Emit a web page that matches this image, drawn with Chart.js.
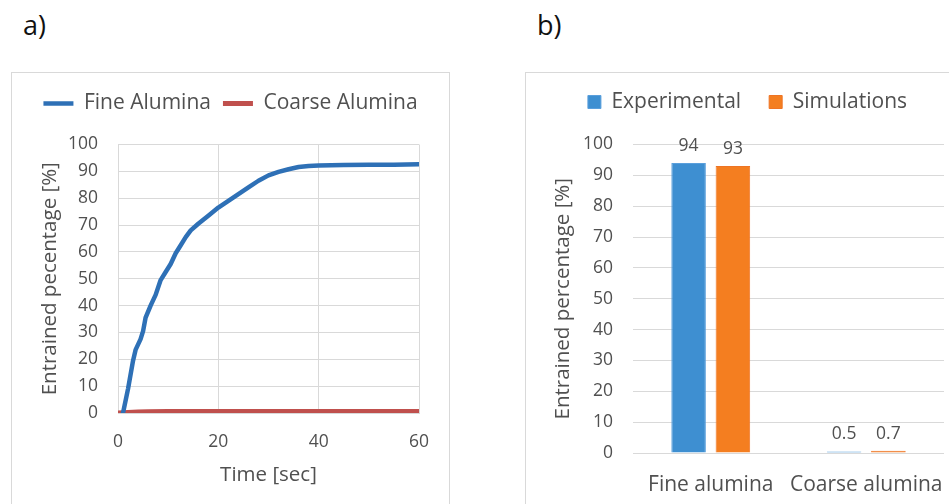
<!DOCTYPE html>
<html>
<head>
<meta charset="utf-8">
<script src="https://cdn.jsdelivr.net/npm/chart.js@4/dist/chart.umd.min.js"></script>
<style>
  html, body { margin: 0; padding: 0; background: #fff; width: 949px; height: 504px; overflow: hidden; font-family: 'Open Sans', sans-serif; }
  .panel { position: absolute; border: 1px solid #d9d9d9; box-sizing: border-box; }
  #boxA { left: 11px; top: 72px; width: 439px; height: 460px; }
  #boxB { left: 525px; top: 72px; width: 460px; height: 460px; }
  .tag { position: absolute; top: 6px; font-size: 27px; color: #111; }
  canvas { position: absolute; }
</style>
</head>
<body>
<div class="tag" style="left:23px">a)</div>
<div class="tag" style="left:537px">b)</div>
<div class="panel" id="boxA"></div>
<div class="panel" id="boxB"></div>
<canvas id="chartA" width="436" height="431" style="left:12px;top:73px"></canvas>
<canvas id="chartB" width="423" height="431" style="left:526px;top:73px"></canvas>
<script>
// Entrainment over time (panel a)
const fineTime   = [1, 2, 3, 3.5, 4.5, 5, 5.5, 6.5, 7.5, 8.5, 9.5, 10.5, 11.5, 12.5, 13.5, 14.5, 16, 18, 20, 22, 24, 26, 28, 30, 32, 34, 36, 38, 40, 45, 50, 55, 60];
const fineValues = [0, 9, 19.5, 23.5, 27.5, 30.5, 35.5, 40, 44, 49.5, 52.5, 55.5, 59.5, 62.5, 65.5, 68, 70.5, 73.5, 76.5, 79, 81.5, 84, 86.5, 88.5, 89.8, 90.8, 91.6, 92, 92.2, 92.4, 92.5, 92.5, 92.6];
const coarseTime   = [0, 2, 4, 6, 10, 20, 30, 40, 50, 60];
const coarseValues = [0, 0.2, 0.4, 0.5, 0.55, 0.6, 0.6, 0.6, 0.6, 0.6];
const timeTicks = [0, 20, 40, 60];
const pctTicks  = [0, 10, 20, 30, 40, 50, 60, 70, 80, 90, 100];

// Final entrained percentage (panel b)
const barCategories = ['Fine alumina', 'Coarse alumina'];
const experimental  = [94, 0.5];
const simulations   = [93, 0.7];

const FONT = "'Open Sans', sans-serif";
const INK = '#505050';
const GRID = '#d9d9d9';
const NONE = 'rgba(0,0,0,0)';

// Extra room under the legend, and a horizontal nudge of the legend row
const legendPlacement = {
  id: 'legendPlacement',
  afterInit(chart, args, opts) {
    const legend = chart.legend;
    if (!legend) return;
    const fit = legend.fit;
    legend.fit = function () { fit.call(this); this.height += opts.extra || 0; };
  },
  afterLayout(chart, args, opts) {
    const legend = chart.legend;
    if (!legend || !opts.shift) return;
    legend.left += opts.shift;
    legend.right += opts.shift;
  }
};

// Writes each bar's value above it
const valueLabels = {
  id: 'valueLabels',
  afterDatasetsDraw(chart, args, opts) {
    const ctx = chart.ctx;
    ctx.save();
    ctx.font = opts.size + 'px ' + FONT;
    ctx.fillStyle = opts.color;
    ctx.textAlign = 'center';
    ctx.textBaseline = 'middle';
    chart.data.datasets.forEach((ds, i) => {
      chart.getDatasetMeta(i).data.forEach((bar, j) => {
        ctx.fillText(String(ds.data[j]), bar.x, bar.y - opts.offset);
      });
    });
    ctx.restore();
  }
};

const pairs = (xs, ys) => xs.map((x, i) => ({ x: x, y: ys[i] }));
const stepOf = arr => arr[1] - arr[0];

new Chart(document.getElementById('chartA'), {
  type: 'line',
  data: {
    datasets: [
      { label: 'Fine Alumina', data: pairs(fineTime, fineValues), borderColor: '#2e70b6', backgroundColor: '#2e70b6',
        borderWidth: 4.5, pointRadius: 0, tension: 0, borderCapStyle: 'round', borderJoinStyle: 'round' },
      { label: 'Coarse Alumina', data: pairs(coarseTime, coarseValues), borderColor: '#c0504d', backgroundColor: '#c0504d',
        borderWidth: 5, pointRadius: 0, tension: 0, borderCapStyle: 'round', borderJoinStyle: 'round' }
    ]
  },
  options: {
    responsive: false, animation: false, events: [],
    layout: { padding: { top: 8, right: 29, bottom: 0, left: 0 } },
    plugins: {
      legend: { position: 'top', labels: { font: { family: FONT, size: 21 }, color: INK, usePointStyle: true, pointStyle: 'line', pointStyleWidth: 30, padding: 12 } },
      legendPlacement: { extra: 20.5, shift: 15 },
      tooltip: { enabled: false }
    },
    scales: {
      x: {
        type: 'linear', min: timeTicks[0], max: timeTicks[timeTicks.length - 1],
        ticks: { stepSize: stepOf(timeTicks), font: { family: FONT, size: 17.5 }, color: INK, padding: 0, maxRotation: 0 },
        grid: { color: GRID, lineWidth: 1, drawTicks: true, tickLength: 18.5, tickColor: NONE },
        border: { color: GRID },
        title: { display: true, text: 'Time [sec]', font: { family: FONT, size: 20.5 }, color: INK, padding: { top: 0, bottom: 16.7 } },
        afterFit(s) { s.height = 91; }
      },
      y: {
        min: pctTicks[0], max: pctTicks[pctTicks.length - 1],
        ticks: { stepSize: stepOf(pctTicks), font: { family: FONT, size: 17.5 }, color: INK, padding: 0 },
        grid: { color: GRID, lineWidth: 1, drawTicks: true, tickLength: 20, tickColor: NONE },
        border: { color: GRID },
        title: { display: true, text: 'Entrained pecentage [%]', font: { family: FONT, size: 20.5 }, color: INK, padding: { top: 25.7, bottom: 0 } },
        afterFit(s) { s.width = 106; }
      }
    }
  },
  plugins: [legendPlacement]
});

new Chart(document.getElementById('chartB'), {
  type: 'bar',
  data: {
    labels: barCategories,
    datasets: [
      { label: 'Experimental', data: experimental, backgroundColor: '#3e8fd1', borderColor: '#5a9fdc', borderWidth: 1,
        categoryPercentage: 0.57, barPercentage: 0.78 },
      { label: 'Simulations', data: simulations, backgroundColor: '#f47e20', borderColor: '#ee7424', borderWidth: 1,
        categoryPercentage: 0.57, barPercentage: 0.78 }
    ]
  },
  options: {
    responsive: false, animation: false, events: [],
    layout: { padding: { top: -9.5, right: 5, bottom: 0, left: 0 } },
    plugins: {
      legend: { position: 'top', labels: { font: { family: FONT, size: 21 }, color: INK, boxWidth: 13, boxHeight: 13, padding: 28 } },
      legendPlacement: { extra: 22, shift: 12.5 },
      valueLabels: { size: 17.5, color: INK, offset: 17 },
      tooltip: { enabled: false }
    },
    scales: {
      x: {
        ticks: { font: { family: FONT, size: 21 }, color: INK, padding: 0, maxRotation: 0, autoSkip: false },
        grid: { color: NONE, drawTicks: true, tickLength: 19.7, tickColor: NONE },
        border: { display: false },
        afterFit(s) { s.height = 51; }
      },
      y: {
        min: pctTicks[0], max: pctTicks[pctTicks.length - 1],
        ticks: { stepSize: stepOf(pctTicks), font: { family: FONT, size: 17.5 }, color: INK, padding: 0 },
        grid: { color: GRID, lineWidth: 1, drawTicks: true, tickLength: 20, tickColor: NONE },
        border: { display: false },
        title: { display: true, text: 'Entrained percentage [%]', font: { family: FONT, size: 20.5 }, color: INK, padding: { top: 24.4, bottom: 0 } },
        afterFit(s) { s.width = 107; }
      }
    }
  },
  plugins: [legendPlacement, valueLabels]
});
</script>
</body>
</html>
